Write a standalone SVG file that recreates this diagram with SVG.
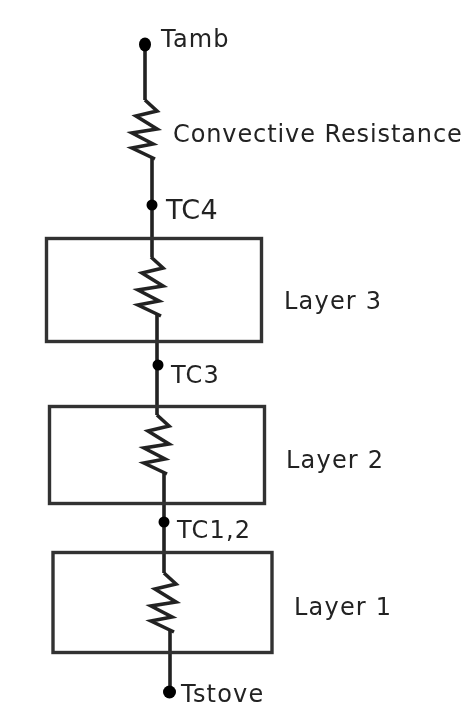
<svg xmlns="http://www.w3.org/2000/svg" width="465" height="707" viewBox="0 0 465 707">
<style>
.w{fill:none;stroke:#222;stroke-width:3.6;stroke-linejoin:miter}
.b{fill:none;stroke:#333;stroke-width:3.4}
.d{fill:#000}
text{font-family:"DejaVu Sans",Verdana,sans-serif;font-size:24px;letter-spacing:1.2px;fill:#222}
#convective text{letter-spacing:0.9px}
#tc4 text{font-size:27px;letter-spacing:0.4px}
</style>
<defs>
<filter id="s" x="-5%" y="-5%" width="110%" height="110%"><feGaussianBlur stdDeviation="0.45"/></filter>
<path id="z" d="M0 0L12 11L-9 16L12 29L-13 33L8 44L-13 48L10 59"/>
</defs>
<rect width="465" height="707" fill="#fff"/>
<g filter="url(#s)">
<g id="connectors">
<path class="w" d="M145 44V100"/>
<g transform="translate(145 100)"><use href="#z" class="w"/></g>
<path class="w" d="M152 158V257"/>
<g transform="translate(151 257)"><use href="#z" class="w"/></g>
<path class="w" d="M157 315V415"/>
<g transform="translate(157 415)"><use href="#z" class="w"/></g>
<path class="w" d="M164 473V573"/>
<g transform="translate(164 573)"><use href="#z" class="w"/></g>
<path class="w" d="M170 631V693"/>
</g>
<g id="tamb"><ellipse class="d" cx="145" cy="44.5" rx="6" ry="7"/><text x="161" y="47">Tamb</text></g>
<g id="convective"><text x="173" y="142">Convective Resistance</text></g>
<g id="tc4"><circle class="d" cx="152" cy="205" r="5.5"/><text x="166" y="219">TC4</text></g>
<g id="layer3"><rect class="b" x="46.5" y="238.5" width="215" height="103"/><text x="284" y="309">Layer 3</text></g>
<g id="tc3"><circle class="d" cx="158" cy="365" r="5.5"/><text x="171" y="383">TC3</text></g>
<g id="layer2"><rect class="b" x="49.5" y="406.5" width="215" height="97"/><text x="286" y="468">Layer 2</text></g>
<g id="tc12"><circle class="d" cx="164" cy="522" r="5.5"/><text x="177" y="538">TC1,2</text></g>
<g id="layer1"><rect class="b" x="53" y="552.5" width="219" height="100"/><text x="294" y="615">Layer 1</text></g>
<g id="tstove"><circle class="d" cx="169.5" cy="692" r="6.5"/><text x="181" y="702">Tstove</text></g>
</g>
</svg>
